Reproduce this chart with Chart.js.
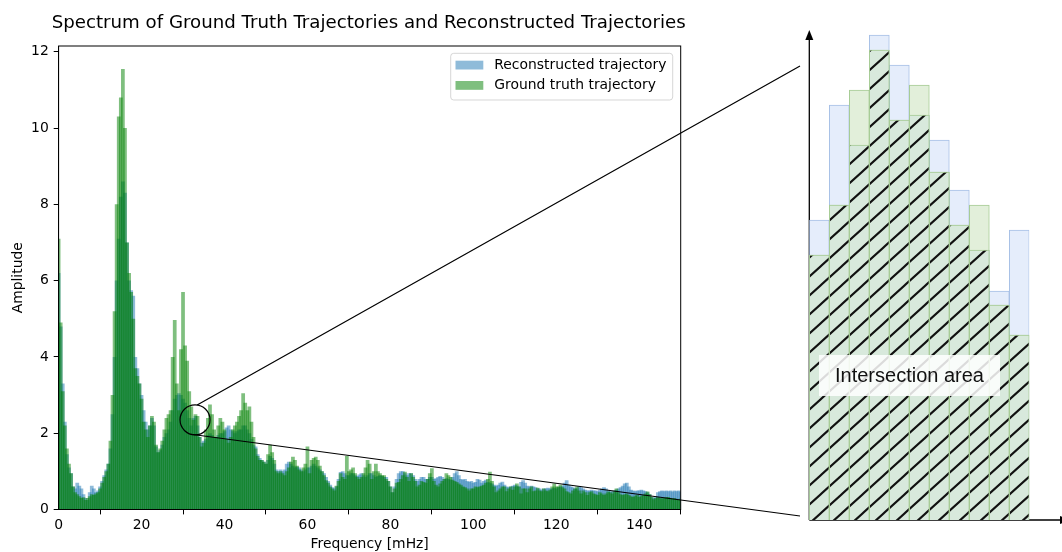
<!DOCTYPE html>
<html>
<head>
<meta charset="utf-8">
<script src="https://cdn.jsdelivr.net/npm/chart.js@4.4.0/dist/chart.umd.min.js"></script>
<style>
  html, body { margin: 0; padding: 0; background: #ffffff; }
  #wrap { position: relative; width: 1062px; height: 552px; overflow: hidden; }
  #main { position: absolute; left: 0; top: 0; }
  #zoom { position: absolute; left: 800px; top: 0; }
</style>
</head>
<body>
<div id="wrap">
  <canvas id="main" width="1062" height="552"></canvas>
  <canvas id="zoom" width="262" height="552"></canvas>
</div>
<script>
// ---- Spectrum data (amplitude per 0.5 mHz bin, 0 .. 150 mHz) ----
const binWidthMHz = 0.5;

const reconstructed = [
  6.2, 4.8, 3.3, 2.3, 1.45, 1.1, 0.95, 0.6, 0.55, 0.7,
  0.62, 0.55, 0.4, 0.3, 0.25, 0.45, 0.62, 0.55, 0.45, 0.5,
  0.6, 0.75, 0.9, 1.05, 1.2, 1.6, 2.5, 4.0, 6.0, 7.1,
  8.2, 8.6, 8.3, 7.0, 6.0, 5.75, 5.6, 4.0, 3.7, 3.3,
  3.0, 2.6, 2.3, 2.1, 2.2, 2.4, 2.2, 1.65, 1.5, 1.55,
  1.7, 1.9, 2.0, 2.1, 2.3, 2.6, 2.9, 3.0, 3.05, 3.0,
  2.9, 2.8, 2.6, 2.4, 2.2, 2.4, 2.45, 2.2, 1.9, 1.75,
  1.8, 1.85, 1.95, 2.0, 1.95, 1.9, 1.9, 1.95, 2.0, 2.0,
  2.05, 2.15, 2.2, 2.1, 2.05, 2.0, 2.05, 2.1, 2.1, 2.2,
  2.2, 2.1, 2.0, 1.85, 1.7, 1.65, 1.45, 1.35, 1.3, 1.25,
  1.2, 1.3, 1.4, 1.35, 1.2, 1.05, 1.0, 1.05, 1.0, 1.05,
  1.2, 1.25, 1.2, 1.15, 1.1, 1.12, 1.1, 1.05, 1.0, 1.05,
  1.1, 1.1, 1.15, 1.2, 1.15, 1.1, 1.05, 1.0, 0.95, 0.85,
  0.75, 0.65, 0.58, 0.55, 0.6, 0.8, 0.98, 1.0, 0.95, 0.9,
  0.9, 0.95, 0.95, 0.9, 0.88, 0.92, 0.95, 0.9, 0.85, 0.9,
  0.95, 0.95, 0.9, 0.85, 0.88, 0.9, 0.88, 0.85, 0.85, 0.75,
  0.6, 0.45, 0.6, 0.8, 0.95, 1.0, 1.0, 0.95, 0.9, 0.95,
  0.95, 0.9, 0.8, 0.75, 0.8, 0.85, 0.85, 0.8, 0.8, 0.85,
  0.85, 0.8, 0.82, 0.85, 0.88, 0.85, 0.8, 0.82, 0.8, 0.78,
  0.85, 0.95, 1.0, 0.9, 0.8, 0.78, 0.8, 0.75, 0.72, 0.75,
  0.7, 0.72, 0.8, 0.78, 0.7, 0.75, 0.78, 0.72, 0.7, 0.68,
  0.65, 0.62, 0.65, 0.7, 0.73, 0.65, 0.6, 0.58, 0.6, 0.62,
  0.65, 0.63, 0.6, 0.72, 0.77, 0.7, 0.62, 0.6, 0.62, 0.6,
  0.58, 0.55, 0.55, 0.52, 0.55, 0.55, 0.57, 0.55, 0.55, 0.57,
  0.55, 0.58, 0.6, 0.62, 0.7, 0.77, 0.65, 0.6, 0.58, 0.55,
  0.55, 0.6, 0.58, 0.55, 0.52, 0.5, 0.5, 0.52, 0.5, 0.5,
  0.48, 0.52, 0.55, 0.58, 0.55, 0.5, 0.48, 0.47, 0.5, 0.52,
  0.55, 0.58, 0.62, 0.68, 0.7, 0.6, 0.52, 0.5, 0.48, 0.5,
  0.5, 0.52, 0.5, 0.48, 0.45, 0.4, 0.33, 0.3, 0.35, 0.45,
  0.48, 0.5, 0.48, 0.5, 0.48, 0.5, 0.47, 0.5, 0.48, 0.5,
  0.47
];

const groundTruth = [
  7.1, 4.9, 3.1, 2.2, 1.6, 1.2, 0.95, 0.6, 0.45, 0.4,
  0.35, 0.3, 0.32, 0.25, 0.3, 0.35, 0.4, 0.38, 0.42, 0.45,
  0.55, 0.7, 0.85, 1.0, 1.2, 1.8, 3.0, 5.2, 8.0, 10.3,
  10.8, 11.55, 10.0, 7.0, 6.2, 5.7, 5.0, 3.7, 3.5, 3.3,
  2.9, 2.3, 2.1, 1.9, 2.2, 2.45, 2.3, 1.7, 1.5, 1.6,
  1.8, 2.1, 2.4, 2.5, 2.6, 4.0, 4.97, 3.3, 2.6, 4.2,
  5.7, 4.3, 3.9, 3.1, 2.7, 2.35, 2.5, 2.45, 1.9, 1.65,
  1.75, 2.1, 2.4, 2.75, 2.5, 2.1, 1.9, 2.2, 2.4, 2.3,
  2.1, 1.85, 1.75, 1.9, 2.1, 2.2, 2.3, 2.45, 2.6, 3.05,
  2.8, 2.6, 2.7, 2.3, 1.9, 1.6, 1.4, 1.3, 1.3, 1.25,
  1.2, 1.45, 1.7, 1.5, 1.3, 1.0, 0.95, 1.0, 0.95, 0.9,
  1.0, 1.1, 1.25, 1.38, 1.3, 1.15, 1.05, 1.0, 1.1, 1.2,
  1.65, 0.95, 1.3, 1.35, 1.38, 1.3, 1.15, 1.0, 0.9, 0.77,
  0.7, 0.6, 0.55, 0.5, 0.62, 0.75, 0.95, 0.85, 0.8, 1.4,
  1.0, 1.05, 1.1, 0.95, 0.85, 0.8, 0.85, 0.95, 1.1, 1.3,
  1.2, 0.8, 1.0, 1.2, 1.0, 0.95, 0.9, 0.9, 0.8, 0.75,
  0.6, 0.45, 0.55, 0.7, 0.72, 0.8, 0.9, 0.99, 0.85, 0.75,
  0.95, 0.85, 0.75, 0.6, 0.65, 0.75, 0.72, 0.7, 0.8, 0.95,
  1.08, 0.75, 0.65, 0.6, 0.68, 0.75, 0.8, 0.95, 0.9, 0.85,
  0.78, 0.75, 0.72, 0.68, 0.65, 0.6, 0.58, 0.55, 0.5, 0.55,
  0.55, 0.6, 0.58, 0.6, 0.62, 0.65, 0.7, 0.8, 0.99, 0.75,
  0.6, 0.45, 0.5, 0.55, 0.6, 0.6, 0.48, 0.55, 0.6, 0.52,
  0.6, 0.68, 0.6, 0.42, 0.55, 0.55, 0.45, 0.55, 0.6, 0.48,
  0.5, 0.57, 0.5, 0.48, 0.55, 0.5, 0.48, 0.52, 0.6, 0.68,
  0.6, 0.6, 0.65, 0.58, 0.55, 0.48, 0.45, 0.42, 0.5, 0.55,
  0.6, 0.5, 0.42, 0.5, 0.45, 0.38, 0.45, 0.48, 0.42, 0.4,
  0.38, 0.45, 0.42, 0.38, 0.42, 0.47, 0.45, 0.42, 0.48, 0.55,
  0.45, 0.4, 0.38, 0.4, 0.42, 0.38, 0.35, 0.33, 0.36, 0.38,
  0.33, 0.36, 0.38, 0.42, 0.47, 0.4, 0.33, 0.27, 0.3, 0.33,
  0.3, 0.29, 0.3, 0.32, 0.33, 0.3, 0.28, 0.3, 0.27, 0.26,
  0.28
];

const xTicks = [0, 20, 40, 60, 80, 100, 120, 140];
const yTicks = [0, 2, 4, 6, 8, 10, 12];

// Magnified detail: eleven neighbouring bins (schematic heights)
const zoomBins = ['b1', 'b2', 'b3', 'b4', 'b5', 'b6', 'b7', 'b8', 'b9', 'b10', 'b11'];
const zoomReconstructed = [3.00, 4.15, 3.75, 4.85, 4.55, 4.05, 3.80, 3.30, 2.70, 2.29, 2.90];
const zoomGroundTruth   = [2.65, 3.15, 4.30, 4.70, 4.00, 4.35, 3.48, 2.95, 3.15, 2.15, 1.85];

// Circled spot on the spectrum that the detail view magnifies
const focusFreq = 32.9;
const focusAmp = 2.35;

// ---- derived tables ----
const freqs = reconstructed.map((_, i) => i * binWidthMHz);
const recPoints = reconstructed.map((v, i) => ({ x: freqs[i], y: v }));
const gtPoints = groundTruth.map((v, i) => ({ x: freqs[i], y: v }));
const zoomIntersection = zoomReconstructed.map((v, i) => Math.min(v, zoomGroundTruth[i]));

const FONT = '"DejaVu Sans", "Liberation Sans", sans-serif';
const TICK_FONT = { family: FONT, size: 13.9 };
const REC_COLOR = 'rgba(31,119,180,0.5)';
const GT_COLOR = 'rgba(0,128,0,0.5)';

// Frame, title, axis titles, legend and magnifier lines
const decorations = {
  id: 'decorations',
  afterDatasetsDraw(chart) {
    const { ctx, scales } = chart;
    ctx.save();
    // magnifier circle and connectors
    const cx = scales.x.getPixelForValue(focusFreq);
    const cy = scales.y.getPixelForValue(focusAmp);
    const r = 15;
    ctx.strokeStyle = '#000';
    ctx.lineWidth = 1.2;
    ctx.beginPath();
    ctx.arc(cx, cy, r, 0, Math.PI * 2);
    ctx.stroke();
    const upA = -82 * Math.PI / 180, loA = 106 * Math.PI / 180;
    ctx.beginPath();
    ctx.moveTo(cx + r * Math.cos(upA), cy + r * Math.sin(upA));
    ctx.lineTo(800, 66);
    ctx.moveTo(cx + r * Math.cos(loA), cy + r * Math.sin(loA));
    ctx.lineTo(800, 516);
    ctx.stroke();
    ctx.restore();
  },
  afterDraw(chart) {
    const { ctx, chartArea: a } = chart;
    ctx.save();
    // full box around the plot
    ctx.strokeStyle = '#000';
    ctx.lineWidth = 1;
    ctx.strokeRect(a.left, a.top, a.right - a.left, a.bottom - a.top);

    const midX = (a.left + a.right) / 2;
    ctx.fillStyle = '#000';
    ctx.textAlign = 'center';
    ctx.textBaseline = 'alphabetic';
    ctx.font = '18.2px ' + FONT;
    ctx.fillText('Spectrum of Ground Truth Trajectories and Reconstructed Trajectories', midX - 1, 27.8);

    ctx.font = '13.9px ' + FONT;
    ctx.fillText('Frequency [mHz]', midX, 548.4);
    ctx.save();
    ctx.translate(21.5, (a.top + a.bottom) / 2);
    ctx.rotate(-Math.PI / 2);
    ctx.fillText('Amplitude', 0, 0);
    ctx.restore();

    // legend
    const lx = 450.7, ly = 53.3, lw = 222, lh = 46.7, rr = 3;
    ctx.beginPath();
    ctx.moveTo(lx + rr, ly);
    ctx.arcTo(lx + lw, ly, lx + lw, ly + lh, rr);
    ctx.arcTo(lx + lw, ly + lh, lx, ly + lh, rr);
    ctx.arcTo(lx, ly + lh, lx, ly, rr);
    ctx.arcTo(lx, ly, lx + lw, ly, rr);
    ctx.closePath();
    ctx.fillStyle = 'rgba(255,255,255,0.8)';
    ctx.fill();
    ctx.strokeStyle = 'rgba(204,204,204,0.8)';
    ctx.lineWidth = 1;
    ctx.stroke();

    const entries = [
      { label: chart.data.datasets[0].label, color: REC_COLOR, y: 60.7 },
      { label: chart.data.datasets[1].label, color: GT_COLOR, y: 81.0 }
    ];
    ctx.textAlign = 'left';
    entries.forEach(e => {
      ctx.fillStyle = e.color;
      ctx.fillRect(455.5, e.y, 27.8, 8.8);
      ctx.fillStyle = '#000';
      ctx.fillText(e.label, 494.3, e.y + 7.8);
    });
    ctx.restore();
  }
};

new Chart(document.getElementById('main'), {
  type: 'bar',
  data: {
    datasets: [
      { label: 'Reconstructed trajectory', data: recPoints, backgroundColor: REC_COLOR, order: 2 },
      { label: 'Ground truth trajectory', data: gtPoints, backgroundColor: GT_COLOR, order: 1 }
    ]
  },
  options: {
    responsive: false,
    animation: false,
    events: [],
    layout: { padding: { left: 0, right: 381.3, top: 46, bottom: 0 } },
    datasets: { bar: { grouped: false, barPercentage: 1.8, categoryPercentage: 1, borderWidth: 0 } },
    plugins: { legend: { display: false }, title: { display: false }, tooltip: { enabled: false } },
    scales: {
      x: {
        type: 'linear',
        min: 0, max: 150,
        offset: false,
        grid: { display: true, drawOnChartArea: false, drawTicks: true, tickLength: 4.9, color: '#000', lineWidth: 1 },
        border: { display: true, color: '#000', width: 1 },
        ticks: {
          stepSize: 20, includeBounds: false, autoSkip: false, maxRotation: 0, padding: 3,
          color: '#000', font: TICK_FONT,
          callback: v => (xTicks.includes(v) ? String(v) : '')
        },
        afterFit: s => { s.height = 42.5; }
      },
      y: {
        min: 0, max: 12.15,
        grid: { display: true, drawOnChartArea: false, drawTicks: true, tickLength: 4.9, color: '#000', lineWidth: 1 },
        border: { display: true, color: '#000', width: 1 },
        ticks: {
          stepSize: 2, includeBounds: false, autoSkip: false, padding: 4.9,
          color: '#000', font: TICK_FONT,
          callback: v => (yTicks.includes(v) ? String(v) : '')
        },
        afterFit: s => { s.width = 58.6; }
      }
    }
  },
  plugins: [decorations]
});

// ---- magnified detail view ----
function hatchPattern(ctx) {
  const w = 21, h = 19;
  const c = document.createElement('canvas');
  c.width = w; c.height = h;
  const g = c.getContext('2d');
  g.fillStyle = '#d8e9dc';
  g.fillRect(0, 0, w, h);
  g.strokeStyle = '#111';
  g.lineWidth = 2.1;
  g.beginPath();
  for (let k = -1; k <= 1; k++) {
    g.moveTo(k * w - w, 2 * h);
    g.lineTo(k * w + 2 * w, -h);
  }
  g.stroke();
  return ctx.createPattern(c, 'repeat');
}

const zoomCanvas = document.getElementById('zoom');
const hatch = hatchPattern(zoomCanvas.getContext('2d'));

const detailAxes = {
  id: 'detailAxes',
  beforeDatasetsDraw(chart) {
    const { ctx, chartArea: a } = chart;
    ctx.save();
    ctx.strokeStyle = '#000';
    ctx.fillStyle = '#000';
    ctx.lineWidth = 1.3;
    // vertical axis with arrow head
    ctx.beginPath();
    ctx.moveTo(a.left, a.bottom);
    ctx.lineTo(a.left, 38);
    ctx.stroke();
    ctx.beginPath();
    ctx.moveTo(a.left, 30);
    ctx.lineTo(a.left - 4, 40);
    ctx.lineTo(a.left + 4, 40);
    ctx.closePath();
    ctx.fill();
    // horizontal axis running off to the right
    ctx.beginPath();
    ctx.moveTo(a.left, a.bottom);
    ctx.lineTo(chart.width + 10, a.bottom);
    ctx.stroke();
    ctx.beginPath();
    ctx.moveTo(chart.width + 8, a.bottom);
    ctx.lineTo(chart.width - 2, a.bottom - 4);
    ctx.lineTo(chart.width - 2, a.bottom + 4);
    ctx.closePath();
    ctx.fill();
    ctx.restore();
  },
  afterDatasetsDraw(chart) {
    const { ctx } = chart;
    ctx.save();
    ctx.fillStyle = 'rgba(255,255,255,0.85)';
    ctx.fillRect(19, 355, 181, 41);
    ctx.fillStyle = '#111';
    ctx.font = '20px "Liberation Sans", Arial, sans-serif';
    ctx.textAlign = 'center';
    ctx.textBaseline = 'middle';
    ctx.fillText('Intersection area', 109.5, 376);
    ctx.restore();
  }
};

new Chart(zoomCanvas, {
  type: 'bar',
  data: {
    labels: zoomBins,
    datasets: [
      { label: 'Reconstructed', data: zoomReconstructed, backgroundColor: '#e5edfb', borderColor: '#a6bfe6', borderWidth: 1, order: 3 },
      { label: 'Ground truth', data: zoomGroundTruth, backgroundColor: '#e2efda', borderColor: '#a6cb94', borderWidth: 1, order: 2 },
      { label: 'Intersection', data: zoomIntersection, backgroundColor: hatch, borderColor: '#a6cb94', borderWidth: 1, order: 1 }
    ]
  },
  options: {
    responsive: false,
    animation: false,
    events: [],
    layout: { padding: { left: 9.3, right: 32.7, top: 20, bottom: 32 } },
    datasets: { bar: { grouped: false, barPercentage: 1, categoryPercentage: 1, borderSkipped: 'start' } },
    plugins: { legend: { display: false }, tooltip: { enabled: false } },
    scales: {
      x: { display: false },
      y: { display: false, min: 0, max: 5 }
    }
  },
  plugins: [detailAxes]
});
</script>
</body>
</html>
